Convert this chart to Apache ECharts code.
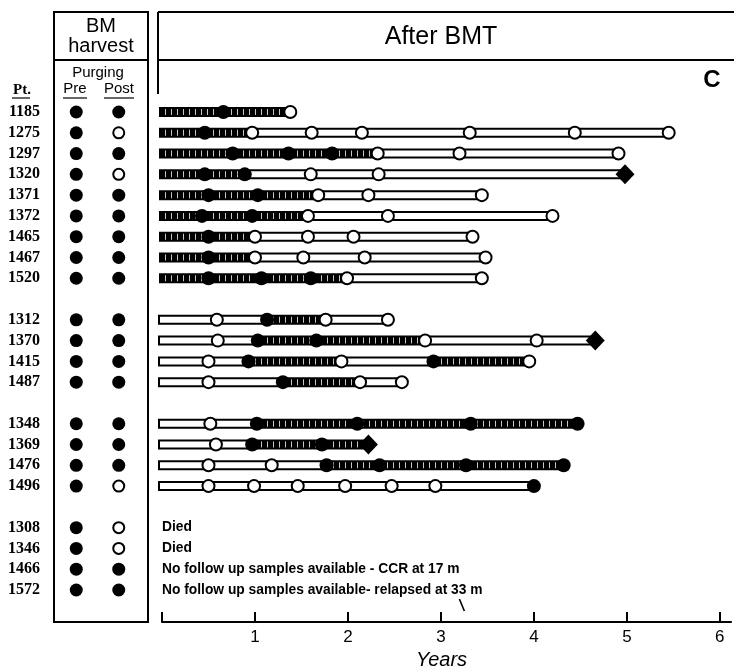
<!DOCTYPE html>
<html>
<head>
<meta charset="utf-8">
<script src="https://cdn.jsdelivr.net/npm/echarts@6/dist/echarts.min.js"></script>
<style>
html, body { margin: 0; background: #fff; }
#main { width: 734px; height: 670px; }
</style>
</head>
<body>
<div id="main"></div>
<script>
// patients, top to bottom (gaps between groups are empty slots)
var patientIds = ['1185', '1275', '1297', '1320', '1371', '1372', '1465', '1467', '1520',
    '1312', '1370', '1415', '1487',
    '1348', '1369', '1476', '1496',
    '1308', '1346', '1466', '1572'];
var rowSlots = [0, 1, 2, 3, 4, 5, 6, 7, 8, 10, 11, 12, 13, 15, 16, 17, 18, 20, 21, 22, 23];

// BM harvest, 1 = filled dot, 0 = open dot
var prePurging = [1, 1, 1, 1, 1, 1, 1, 1, 1, 1, 1, 1, 1, 1, 1, 1, 1, 1, 1, 1, 1];
var postPurging = [1, 0, 1, 0, 1, 1, 1, 1, 1, 1, 1, 1, 1, 1, 1, 1, 0, 0, 0, 1, 1];

// after BMT, years
var hatchedSpans = [
    [[0, 1.38]], [[0, 0.97]], [[0, 2.32]], [[0, 0.89]], [[0, 1.68]], [[0, 1.57]],
    [[0, 1.0]], [[0, 1.0]], [[0, 1.99]],
    [[1.13, 1.76]], [[1.03, 2.83]], [[0.93, 1.93], [2.92, 3.95]], [[1.3, 2.13]],
    [[1.02, 4.47]], [[0.97, 2.22]], [[1.77, 4.32]], [],
    [], [], [], []
];
var openSpans = [
    [], [[0.97, 5.45]], [[2.32, 4.91]], [[0.89, 4.98]], [[1.68, 3.44]], [[1.57, 4.2]],
    [[1.0, 3.34]], [[1.0, 3.48]], [[1.99, 3.44]],
    [[0, 1.13], [1.76, 2.43]], [[0, 1.03], [2.83, 4.66]], [[0, 0.93], [1.93, 2.92]], [[0, 1.3], [2.13, 2.58]],
    [[0, 1.02]], [[0, 0.97]], [[0, 1.77]], [[0, 4.0]],
    [], [], [], []
];
var filledMarks = [
    [0.66], [0.46], [0.76, 1.36, 1.83], [0.46, 0.89], [0.5, 1.03], [0.43, 0.97],
    [0.5], [0.5], [0.5, 1.07, 1.6],
    [1.13], [1.03, 1.66], [0.93, 2.92], [1.3],
    [1.02, 2.1, 3.32, 4.47], [0.97, 1.72], [1.77, 2.34, 3.27, 4.32], [4.0],
    [], [], [], []
];
var openMarks = [
    [1.38], [0.97, 1.61, 2.15, 3.31, 4.44, 5.45], [2.32, 3.2, 4.91], [1.6, 2.33], [1.68, 2.22, 3.44],
    [1.57, 2.43, 4.2], [1.0, 1.57, 2.06, 3.34], [1.0, 1.52, 2.18, 3.48], [1.99, 3.44],
    [0.59, 1.76, 2.43], [0.6, 2.83, 4.03], [0.5, 1.93, 3.95], [0.5, 2.13, 2.58],
    [0.52], [0.58], [0.5, 1.18], [0.5, 0.99, 1.46, 1.97, 2.47, 2.94],
    [], [], [], []
];
var diamondMarks = [
    [], [], [], [4.98], [], [], [], [], [],
    [], [4.66], [], [],
    [], [2.22], [], [],
    [], [], [], []
];
var noteTexts = ['', '', '', '', '', '', '', '', '', '', '', '', '', '', '', '', '',
    'Died', 'Died', 'No follow up samples available - CCR at 17 m',
    'No follow up samples available- relapsed at 33 m'];
var relapseMark = [3.22, 23.72];

var sans = 'Arial, "Liberation Sans", Helvetica, sans-serif';
var serif = '"Liberation Serif", "Times New Roman", serif';

/**
 * 条纹填充
 */
function makeHatch() {
    var c = document.createElement('canvas');
    c.width = 6;
    c.height = 2;
    var ctx = c.getContext('2d');
    ctx.fillStyle = '#000';
    ctx.fillRect(0, 0, 6, 2);
    ctx.fillStyle = '#c8c8c8';
    ctx.fillRect(3, 0, 1, 2);
    return c;
}
var hatch = makeHatch();

var spanData = [];
var filledData = [], openData = [], diamondData = [], noteData = [];
var preFilled = [], preOpen = [], postFilled = [], postOpen = [];
patientIds.forEach(function (id, i) {
    var s = rowSlots[i];
    openSpans[i].forEach(function (p) { spanData.push([p[0], p[1], s, 0]); });
    hatchedSpans[i].forEach(function (p) { spanData.push([p[0], p[1], s, 1]); });
    filledMarks[i].forEach(function (t) { filledData.push([t, s]); });
    openMarks[i].forEach(function (t) { openData.push([t, s]); });
    diamondMarks[i].forEach(function (t) { diamondData.push([t, s]); });
    if (noteTexts[i]) noteData.push([0, s, i]);
    (prePurging[i] ? preFilled : preOpen).push(['Pre', s]);
    (postPurging[i] ? postFilled : postOpen).push(['Post', s]);
});
// open spans first so hatched ones sit over them
spanData.sort(function (a, b) { return a[3] - b[3]; });

function slotLabel(v) {
    var k = rowSlots.indexOf(v);
    return k >= 0 ? patientIds[k] : '';
}

function renderSpan(params, api) {
    var a = api.coord([api.value(0), api.value(2)]);
    var b = api.coord([api.value(1), api.value(2)]);
    var x0 = api.value(0) === 0 ? a[0] - 3 : a[0];
    if (api.value(3) === 1) {
        return {
            type: 'group',
            children: [
                {type: 'rect', shape: {x: x0, y: a[1] - 5, width: b[0] - x0, height: 10}, style: {fill: '#000'}},
                {type: 'rect', shape: {x: x0 + 2, y: a[1] - 3, width: b[0] - x0 - 4, height: 6},
                    style: {fill: {image: hatch, repeat: 'repeat'}}}
            ]
        };
    }
    return {
        type: 'rect',
        shape: {x: x0, y: a[1] - 4, width: b[0] - x0, height: 8},
        style: {fill: '#fff', stroke: '#000', lineWidth: 2}
    };
}

function renderNote(params, api) {
    var p = api.coord([api.value(0), api.value(1)]);
    return {
        type: 'text',
        x: p[0], y: p[1],
        style: {text: noteTexts[api.value(2)], font: 'bold 13.8px ' + sans, fill: '#000', verticalAlign: 'middle'}
    };
}

function renderSlash(params, api) {
    var p = api.coord([api.value(0), api.value(1)]);
    return {
        type: 'line',
        shape: {x1: p[0] - 2, y1: p[1] - 6, x2: p[0] + 3, y2: p[1] + 6},
        style: {stroke: '#000', lineWidth: 1.6}
    };
}

var dotFilled = {color: '#000', opacity: 1};
var dotOpen = {color: '#fff', borderColor: '#000', borderWidth: 2, opacity: 1};

var myChart = echarts.init(document.getElementById('main'), null, {renderer: 'canvas'});
var option = {
    backgroundColor: '#fff',
    animation: false,
    grid: [
        {left: 162, top: 112, width: 569, height: 510, outerBoundsMode: 'none', containLabel: false},
        {left: 55, top: 112, width: 85, height: 510, outerBoundsMode: 'none', containLabel: false}
    ],
    xAxis: [
        {
            gridIndex: 0, type: 'value', position: 'bottom', min: 0, max: 6.12, interval: 1,
            splitLine: {show: false},
            axisLine: {show: true, onZero: false, lineStyle: {color: '#000', width: 2}},
            axisTick: {show: true, inside: true, length: 10, lineStyle: {color: '#000', width: 2}},
            axisLabel: {
                color: '#000', fontSize: 17, fontFamily: sans, margin: 7,
                formatter: function (v) { return v === 0 ? '' : String(v); }
            },
            name: 'Years', nameLocation: 'middle', nameGap: 28,
            nameTextStyle: {color: '#000', fontSize: 20, fontStyle: 'italic', fontFamily: sans, padding: [0, 10, 0, 0]}
        },
        {
            gridIndex: 1, type: 'category', data: ['Pre', 'Post'],
            show: false
        }
    ],
    yAxis: [
        {gridIndex: 0, type: 'value', min: 0, max: 24.54, inverse: true, show: false},
        {
            gridIndex: 1, type: 'value', min: 0, max: 24.54, interval: 1, inverse: true,
            splitLine: {show: false}, axisLine: {show: false}, axisTick: {show: false},
            axisLabel: {
                color: '#000', fontSize: 16, fontWeight: 'bold', fontFamily: serif, margin: 15,
                formatter: slotLabel
            }
        }
    ],
    graphic: [
        // BM harvest box
        {type: 'rect', shape: {x: 54, y: 12, width: 94, height: 610}, style: {fill: 'none', stroke: '#000', lineWidth: 2}},
        {type: 'line', shape: {x1: 54, y1: 60, x2: 148, y2: 60}, style: {stroke: '#000', lineWidth: 2}},
        {type: 'text', x: 101, y: 26, style: {text: 'BM', font: '20px ' + sans, fill: '#000', align: 'center', verticalAlign: 'middle'}},
        {type: 'text', x: 101, y: 46, style: {text: 'harvest', font: '20px ' + sans, fill: '#000', align: 'center', verticalAlign: 'middle'}},
        {type: 'text', x: 98, y: 73, style: {text: 'Purging', font: '15px ' + sans, fill: '#000', align: 'center', verticalAlign: 'middle'}},
        {type: 'text', x: 75, y: 89, style: {text: 'Pre', font: '15px ' + sans, fill: '#000', align: 'center', verticalAlign: 'middle'}},
        {type: 'text', x: 119, y: 89, style: {text: 'Post', font: '15px ' + sans, fill: '#000', align: 'center', verticalAlign: 'middle'}},
        {type: 'line', shape: {x1: 63, y1: 98, x2: 87, y2: 98}, style: {stroke: '#000', lineWidth: 1.2}},
        {type: 'line', shape: {x1: 104, y1: 98, x2: 134, y2: 98}, style: {stroke: '#000', lineWidth: 1.2}},
        {type: 'text', x: 13, y: 90, style: {text: 'Pt.', font: 'bold 15px ' + serif, fill: '#000', verticalAlign: 'middle'}},
        {type: 'line', shape: {x1: 12, y1: 98, x2: 30, y2: 98}, style: {stroke: '#000', lineWidth: 1.2}},
        // After BMT header
        {type: 'line', shape: {x1: 158, y1: 12, x2: 734, y2: 12}, style: {stroke: '#000', lineWidth: 2}},
        {type: 'line', shape: {x1: 158, y1: 60, x2: 734, y2: 60}, style: {stroke: '#000', lineWidth: 2}},
        {type: 'line', shape: {x1: 158, y1: 12, x2: 158, y2: 94}, style: {stroke: '#000', lineWidth: 2}},
        {type: 'text', x: 441, y: 37, style: {text: 'After BMT', font: '25px ' + sans, fill: '#000', align: 'center', verticalAlign: 'middle'}},
        {type: 'text', x: 712, y: 80, style: {text: 'C', font: 'bold 24px ' + sans, fill: '#000', align: 'center', verticalAlign: 'middle'}}
    ],
    series: [
        {
            type: 'custom', xAxisIndex: 0, yAxisIndex: 0, renderItem: renderSpan,
            encode: {x: [0, 1], y: 2}, data: spanData, z: 2
        },
        {
            type: 'scatter', xAxisIndex: 0, yAxisIndex: 0, symbol: 'circle', symbolSize: 14,
            itemStyle: dotFilled, data: filledData, z: 3
        },
        {
            type: 'scatter', xAxisIndex: 0, yAxisIndex: 0, symbol: 'circle', symbolSize: 12,
            itemStyle: dotOpen, data: openData, z: 3
        },
        {
            type: 'scatter', xAxisIndex: 0, yAxisIndex: 0, symbol: 'diamond', symbolSize: [19, 20],
            itemStyle: dotFilled, data: diamondData, z: 3
        },
        {
            type: 'custom', xAxisIndex: 0, yAxisIndex: 0, renderItem: renderNote,
            data: noteData, z: 3
        },
        {
            type: 'custom', xAxisIndex: 0, yAxisIndex: 0, renderItem: renderSlash,
            data: [relapseMark], z: 3
        },
        {
            type: 'scatter', xAxisIndex: 1, yAxisIndex: 1, symbol: 'circle', symbolSize: 13,
            itemStyle: dotFilled, data: preFilled.concat(postFilled)
        },
        {
            type: 'scatter', xAxisIndex: 1, yAxisIndex: 1, symbol: 'circle', symbolSize: 11,
            itemStyle: dotOpen, data: preOpen.concat(postOpen)
        }
    ]
};
if (option && typeof option === "object") {
    myChart.setOption(option, true);
}
</script>
</body>
</html>
